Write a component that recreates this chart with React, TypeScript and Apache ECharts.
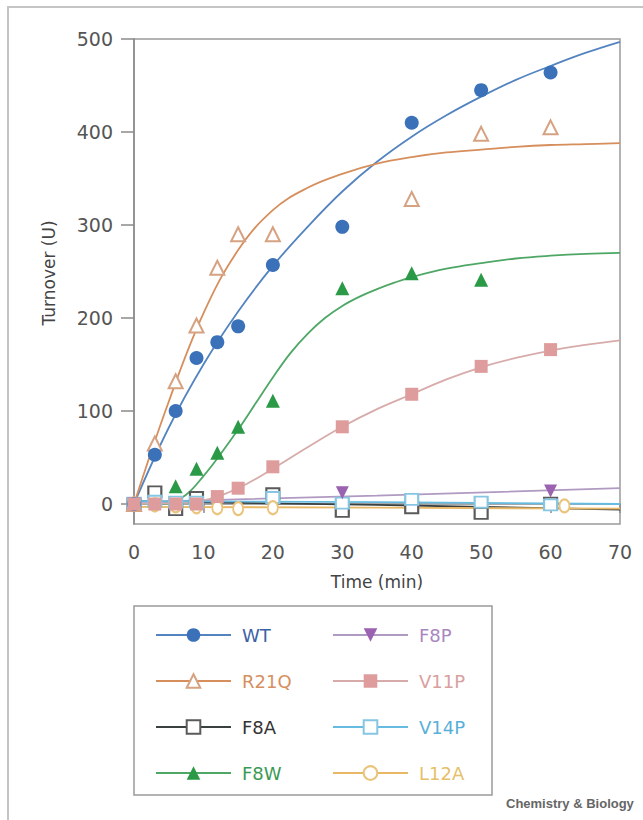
import React, { useEffect, useRef } from "react";
import * as echarts from "echarts";

// ---- data (time in min, turnover in U) ----
const wtPoints = [[0, 0], [3, 53], [6, 100], [9, 157], [12, 174], [15, 191], [20, 257], [30, 298], [40, 410], [50, 445], [60, 464]];
const wtFit = [[0, 0], [5, 82], [10, 150], [15, 207], [20, 256], [25, 298], [30, 336], [35, 368], [40, 395], [45, 418], [50, 438], [55, 456], [60, 471], [65, 485], [70, 497]];

const r21qPoints = [[0, 0], [3, 65], [6, 132], [9, 192], [12, 254], [15, 290], [20, 290], [40, 328], [50, 398], [60, 405]];
const r21qFit = [[0, 0], [5, 110], [10, 205], [15, 273], [20, 316], [25, 340], [30, 355], [35, 366], [40, 373], [45, 378], [50, 381], [55, 384], [60, 386], [65, 387], [70, 388]];

const f8aPoints = [[0, 0], [3, 13], [6, -6], [9, 7], [20, 11], [30, -8], [40, -4], [50, -10], [60, 1]];
const f8aFit = [[0, 3], [35, -1], [70, -6]];

const f8wPoints = [[0, 0], [6, 19], [9, 38], [12, 55], [15, 83], [20, 111], [30, 232], [40, 248], [50, 241]];
const f8wFit = [[0, 0], [2.5, 0], [5, 1], [7.5, 10], [10, 30], [12.5, 54], [15, 80], [17.5, 108], [20, 136], [22.5, 162], [25, 183], [27.5, 200], [30, 213], [32.5, 223], [35, 231], [37.5, 238], [40, 244], [45, 253], [50, 259], [55, 264], [60, 267], [65, 269], [70, 270]];

const f8pPoints = [[0, 0], [30, 12], [60, 14]];
const f8pFit = [[0, 2], [35, 9], [70, 17]];

const v11pPoints = [[0, 0], [3, 0], [6, 0], [9, 0], [12, 8], [15, 17], [20, 40], [30, 83], [40, 118], [50, 148], [60, 166]];
const v11pFit = [[0, 0], [5, 1], [10, 4], [15, 17], [20, 38], [25, 61], [30, 83], [35, 102], [40, 118], [45, 134], [50, 147], [55, 157], [60, 165], [65, 171], [70, 176]];

const v14pPoints = [[0, 1], [3, 3], [6, 2], [9, 2], [20, 7], [30, 1], [40, 5], [50, 2], [60, -1]];
const v14pFit = [[0, 3], [35, 2], [70, 0]];

const l12aPoints = [[0, 0], [3, -1], [6, -2], [9, -3], [12, -4], [15, -5], [20, -4], [62, -2]];
const l12aFit = [[0, -3], [35, -4], [70, -5]];

const yTicks = [0, 100, 200, 300, 400, 500];
const xTicks = [0, 10, 20, 30, 40, 50, 60, 70];

const FONT = "DejaVu Sans";

type Spec = {
  name: string;
  points: number[][];
  fit: number[][];
  symbol: string;
  size: number | number[];
  rotate?: number;
  marker: string;
  line: string;
  text: string;
  smooth: boolean;
};

const specs: Spec[] = [
  { name: "WT", points: wtPoints, fit: wtFit, symbol: "circle", size: 14, marker: "#3a71b8", line: "#5484c0", text: "#3c62a6", smooth: true },
  { name: "R21Q", points: r21qPoints, fit: r21qFit, symbol: "emptyTriangle", size: 14, marker: "#d6a282", line: "#d68e5c", text: "#d58f60", smooth: true },
  { name: "F8A", points: f8aPoints, fit: f8aFit, symbol: "emptyRect", size: [13, 11], marker: "#5a5a5a", line: "#3a3f40", text: "#333333", smooth: false },
  { name: "F8W", points: f8wPoints, fit: f8wFit, symbol: "triangle", size: 14, marker: "#2a9a46", line: "#4fa766", text: "#3a9a55", smooth: true },
  { name: "F8P", points: f8pPoints, fit: f8pFit, symbol: "triangle", size: 13, rotate: 180, marker: "#9a62b0", line: "#b09ac2", text: "#a887bf", smooth: false },
  { name: "V11P", points: v11pPoints, fit: v11pFit, symbol: "rect", size: 13, marker: "#de9c9c", line: "#d8abab", text: "#d9a0a0", smooth: true },
  { name: "V14P", points: v14pPoints, fit: v14pFit, symbol: "emptyRect", size: [13, 11], marker: "#86c6e2", line: "#66bbe0", text: "#58b0d8", smooth: false },
  { name: "L12A", points: l12aPoints, fit: l12aFit, symbol: "emptyCircle", size: [10, 13], marker: "#ebc47c", line: "#e8b866", text: "#e6bf6a", smooth: false },
];

// draw order of the marker layers (pink squares end up on top near zero)
const scatterOrder = ["F8A", "V14P", "L12A", "F8P", "F8W", "R21Q", "WT", "V11P"];

export default function App() {
  const ref = useRef<HTMLDivElement>(null);

  useEffect(() => {
    document.body.style.margin = "0";
    if (!ref.current) return;
    const chart = echarts.init(ref.current, undefined, { renderer: "svg" });

    const lineSeries = specs.map((s) => ({
      type: "line",
      name: s.name,
      data: s.fit,
      smooth: s.smooth ? 0.4 : false,
      showSymbol: false,
      symbol: s.symbol,
      symbolRotate: s.rotate || 0,
      lineStyle: { color: s.line, width: 1.8 },
      itemStyle: { color: s.marker },
      z: 2,
      silent: true,
    }));

    const scatterSeries = scatterOrder.map((n) => {
      const s = specs.find((x) => x.name === n)!;
      const empty = s.symbol.startsWith("empty");
      return {
        type: "scatter",
        name: s.name,
        data: s.points,
        symbol: s.symbol,
        symbolSize: s.size,
        symbolRotate: s.rotate || 0,
        itemStyle: empty
          ? { color: s.marker, borderColor: s.marker, borderWidth: 1.6, opacity: 1 }
          : { color: s.marker, opacity: 1 },
        z: 3,
        silent: true,
      };
    });

    const legendItem = (n: string) => {
      const s = specs.find((x) => x.name === n)!;
      return { name: n, textStyle: { color: s.text } };
    };

    const legendBase = {
      orient: "vertical",
      top: 626,
      itemWidth: 75,
      itemHeight: 17,
      itemGap: 28,
      selectedMode: false,
      padding: 0,
      textStyle: { fontFamily: FONT, fontSize: 18, padding: [0, 0, 0, 6] },
    };

    chart.setOption({
      animation: false,
      backgroundColor: "#ffffff",
      grid: {
        left: 134,
        right: 23,
        top: 39,
        bottom: 296,
        show: true,
        borderColor: "#9a9a9a",
        borderWidth: 1.5,
        backgroundColor: "transparent",
      },
      xAxis: {
        type: "value",
        min: 0,
        max: 70,
        interval: 10,
        name: "Time (min)",
        nameLocation: "middle",
        nameGap: 49,
        nameTextStyle: { fontFamily: FONT, fontSize: 17, color: "#444" },
        axisLine: { show: true, lineStyle: { color: "#8a8a8a", width: 1.5 } },
        axisTick: { show: true, length: 9, lineStyle: { color: "#8a8a8a", width: 1.5 }, customValues: xTicks },
        axisLabel: { fontFamily: FONT, fontSize: 19, color: "#555", margin: 18, customValues: xTicks },
        splitLine: { show: false },
      },
      yAxis: {
        type: "value",
        min: -21.5,
        max: 500,
        name: "Turnover (U)",
        nameLocation: "middle",
        nameGap: 77,
        nameTextStyle: { fontFamily: FONT, fontSize: 17, color: "#444", padding: [0, 0, 0, 17] },
        axisLine: { show: true, lineStyle: { color: "#8a8a8a", width: 1.5 } },
        axisTick: { show: true, length: 13, lineStyle: { color: "#8a8a8a", width: 1.5 }, customValues: yTicks },
        axisLabel: { fontFamily: FONT, fontSize: 19, color: "#555", margin: 21, customValues: yTicks },
        splitLine: { show: false },
      },
      legend: [
        { ...legendBase, left: 155, data: ["WT", "R21Q", "F8A", "F8W"].map(legendItem) },
        { ...legendBase, left: 332, data: ["F8P", "V11P", "V14P", "L12A"].map(legendItem) },
      ],
      graphic: [
        {
          type: "rect",
          silent: true,
          shape: { x: 8, y: 7, width: 700, height: 900 },
          style: { fill: "none", stroke: "#c4c4c4", lineWidth: 2 },
        },
        {
          type: "rect",
          silent: true,
          shape: { x: 134, y: 606, width: 358, height: 189 },
          style: { fill: "none", stroke: "#9a9a9a", lineWidth: 1.5 },
        },
        {
          type: "text",
          silent: true,
          x: 506,
          y: 797,
          style: {
            text: "Chemistry & Biology",
            fill: "#666",
            fontFamily: "Liberation Sans",
            fontSize: 13,
            fontWeight: "bold",
          },
        },
      ],
      series: [...lineSeries, ...scatterSeries],
    });

    return () => chart.dispose();
  }, []);

  return <div ref={ref} style={{ width: 643, height: 820 }} />;
}
